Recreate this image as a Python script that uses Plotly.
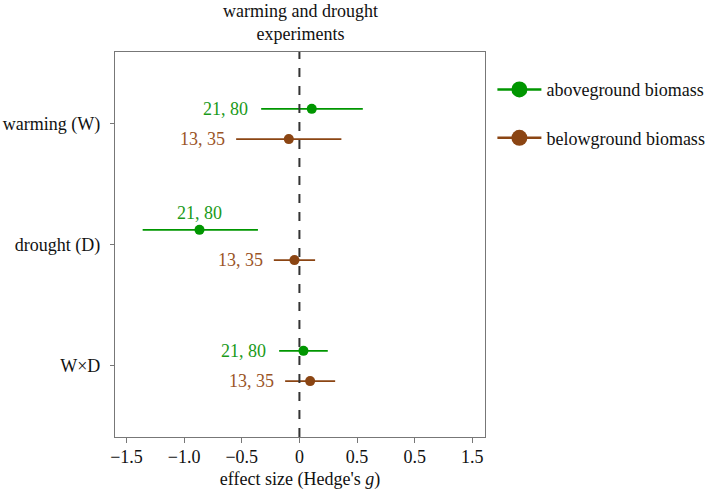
import plotly.graph_objects as go

# ---- data ----
categories = ["warming (W)", "drought (D)", "W×D"]
cat_pos = [3, 2, 1]

above_mean = [0.107, -0.867, 0.035]
above_low = [-0.332, -1.36, -0.176]
above_high = [0.55, -0.36, 0.246]
above_label = ["21, 80", "21, 80", "21, 80"]

below_mean = [-0.092, -0.043, 0.093]
below_low = [-0.549, -0.222, -0.124]
below_high = [0.364, 0.136, 0.31]
below_label = ["13, 35", "13, 35", "13, 35"]

x_tickvals = [-1.5, -1.0, -0.5, 0, 0.5, 1.0, 1.5]
x_ticktext = ["\u22121.5", "\u22121.0", "\u22120.5", "0", "0.5", "0.5", "1.5"]

GREEN = "#009600"
GREEN_TXT = "#1a9a1a"
BROWN = "#8B4513"
BROWN_TXT = "#9a5426"
FONT = "Liberation Serif, Times New Roman, serif"
FS = 18
offset = 0.125

fig = go.Figure()

def add_series(mean, low, high, color, name, dy):
    ys = [p + dy for p in cat_pos]
    fig.add_trace(go.Scatter(
        x=mean, y=ys, mode="markers",
        marker=dict(color=color, size=10),
        error_x=dict(type="data", symmetric=False,
                     array=[h - m for h, m in zip(high, mean)],
                     arrayminus=[m - l for m, l in zip(mean, low)],
                     color=color, thickness=1.6, width=0),
        showlegend=False, hoverinfo="skip"))
    fig.add_trace(go.Scatter(
        x=[None], y=[None], mode="lines+markers", name=name,
        line=dict(color=color, width=2.5),
        marker=dict(color=color, size=16),
        legendgroup=name))

add_series(above_mean, above_low, above_high, GREEN, "aboveground biomass", offset)
add_series(below_mean, below_low, below_high, BROWN, "belowground biomass", -offset)

# n labels
for i, p in enumerate(cat_pos):
    if i == 1:
        fig.add_annotation(x=above_mean[i], y=p + offset, text=above_label[i],
                           showarrow=False, xanchor="center", yanchor="bottom",
                           yshift=5, font=dict(family=FONT, size=FS, color=GREEN_TXT))
    else:
        fig.add_annotation(x=above_low[i], y=p + offset, text=above_label[i],
                           showarrow=False, xanchor="right", xshift=-11,
                           font=dict(family=FONT, size=FS, color=GREEN_TXT))
    fig.add_annotation(x=below_low[i], y=p - offset, text=below_label[i],
                       showarrow=False, xanchor="right", xshift=-9,
                       font=dict(family=FONT, size=FS, color=BROWN_TXT))

# zero reference line
fig.add_shape(type="line", x0=0, x1=0, y0=0, y1=1, xref="x", yref="paper",
              line=dict(color="#333333", width=2, dash="dash"))

# title
fig.add_annotation(x=0.5, y=1, xref="paper", yref="paper",
                   text="warming and drought<br>experiments", showarrow=False,
                   xanchor="center", yanchor="bottom", yshift=6,
                   font=dict(family=FONT, size=FS, color="#111111"))

fig.update_layout(
    width=714, height=493,
    margin=dict(l=115, r=229, t=52, b=56, autoexpand=False),
    paper_bgcolor="white", plot_bgcolor="white",
    font=dict(family=FONT, size=FS, color="#111111"),
    legend=dict(x=1.02, y=0.95, xanchor="left", yanchor="top",
                font=dict(family=FONT, size=FS, color="#111111"),
                tracegroupgap=22, itemwidth=44, bgcolor="rgba(0,0,0,0)"),
    xaxis=dict(range=[-1.6, 1.61], tickvals=x_tickvals, ticktext=x_ticktext,
               showgrid=False, zeroline=False, showline=True, mirror=True,
               linecolor="#777777", linewidth=1.2, ticks="outside", ticklen=5,
               tickcolor="#777777", automargin=False, ticklabelstandoff=-2,
               title=dict(text="effect size (Hedge's <i>g</i>)", standoff=6,
                          font=dict(family=FONT, size=FS))),
    yaxis=dict(range=[0.413, 3.595], tickvals=cat_pos, ticktext=categories,
               showgrid=False, zeroline=False, showline=True, mirror=True,
               linecolor="#777777", linewidth=1.2, ticks="outside", ticklen=4,
               tickcolor="#777777", ticklabelstandoff=6, automargin=False),
)

fig.write_html("out.html", config={"displayModeBar": False},
               post_script="document.body.style.margin='0';document.body.style.overflow='hidden';")
